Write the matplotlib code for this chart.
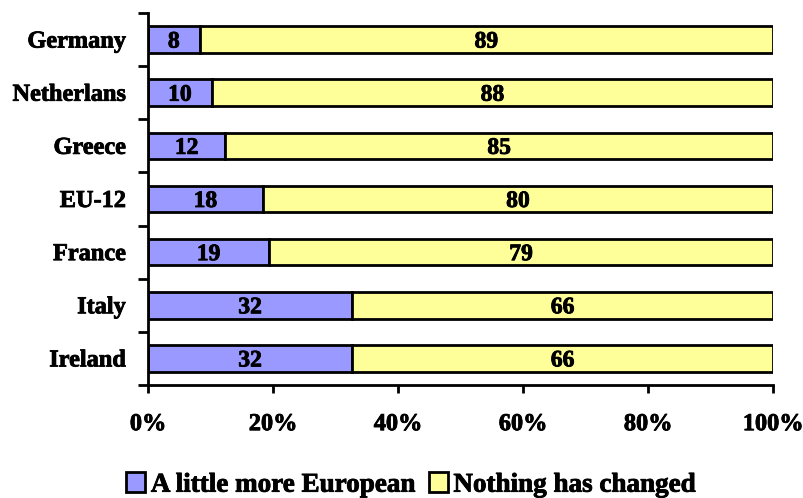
import matplotlib
matplotlib.use("Agg")
import matplotlib.pyplot as plt
import matplotlib.patheffects as pe
import numpy as np
from matplotlib.ticker import FixedLocator, PercentFormatter

countries = ["Germany", "Netherlans", "Greece", "EU-12", "France", "Italy", "Ireland"]
more_european = [8, 10, 12, 18, 19, 32, 32]
nothing_changed = [89, 88, 85, 80, 79, 66, 66]
series_names = ["A little more European", "Nothing has changed"]
colors = ["#9999FF", "#FFFF99"]

plt.rcParams["font.family"] = ["Liberation Serif", "DejaVu Serif"]
plt.rcParams["font.weight"] = "bold"

FS = 17.5
heavy = [pe.withStroke(linewidth=0.6, foreground="black")]

fig = plt.figure(figsize=(8.04, 4.98), dpi=100)
ax = fig.add_axes([148 / 804, 1 - 385 / 498, 625 / 804, 372 / 498])

a = np.array(more_european, dtype=float)
b = np.array(nothing_changed, dtype=float)
tot = a + b
pa = a / tot * 100
pb = b / tot * 100
y = np.arange(len(countries))

h = 0.5
ax.barh(y, pa, height=h, color=colors[0], edgecolor="black", linewidth=2,
        label=series_names[0])
ax.barh(y, pb, left=pa, height=h, color=colors[1], edgecolor="black", linewidth=2,
        label=series_names[1])

for i in range(len(countries)):
    ax.text(pa[i] / 2, y[i], f"{more_european[i]}", ha="center", va="center_baseline",
            fontsize=17, fontweight="bold", path_effects=heavy)
    ax.text(pa[i] + pb[i] / 2, y[i], f"{nothing_changed[i]}", ha="center",
            va="center_baseline", fontsize=17, fontweight="bold", path_effects=heavy)

ax.set_xlim(0, 100)
ax.set_ylim(len(countries) - 0.5, -0.5)
ax.set_yticks(y)
ax.set_yticklabels(countries, fontsize=FS, fontweight="bold")
for lab in ax.get_yticklabels():
    lab.set_verticalalignment("center_baseline")
    lab.set_path_effects(heavy)
ax.yaxis.set_minor_locator(FixedLocator(np.arange(-0.5, len(countries), 1)))
ax.tick_params(axis="y", which="major", length=0, pad=16)
ax.tick_params(axis="y", which="minor", length=7, width=2, direction="out")

ax.set_xticks(np.arange(0, 101, 20))
ax.xaxis.set_major_formatter(PercentFormatter(decimals=0))
ax.tick_params(axis="x", length=6, width=2, direction="out", pad=15, labelsize=FS)
for lab in ax.get_xticklabels():
    lab.set_fontweight("bold")
    lab.set_path_effects(heavy)

for side in ["top", "right"]:
    ax.spines[side].set_visible(False)
for side in ["left", "bottom"]:
    ax.spines[side].set_linewidth(2)

leg = fig.legend(loc="center", bbox_to_anchor=(411 / 804, 1 - 485 / 498), ncol=2,
                 frameon=False, handlelength=0.7, handleheight=0.75, handletextpad=0.2,
                 columnspacing=0.5, prop={"weight": "bold", "size": 19.5})
for t in leg.get_texts():
    t.set_path_effects(heavy)

fig.savefig("out.png", dpi=100)
